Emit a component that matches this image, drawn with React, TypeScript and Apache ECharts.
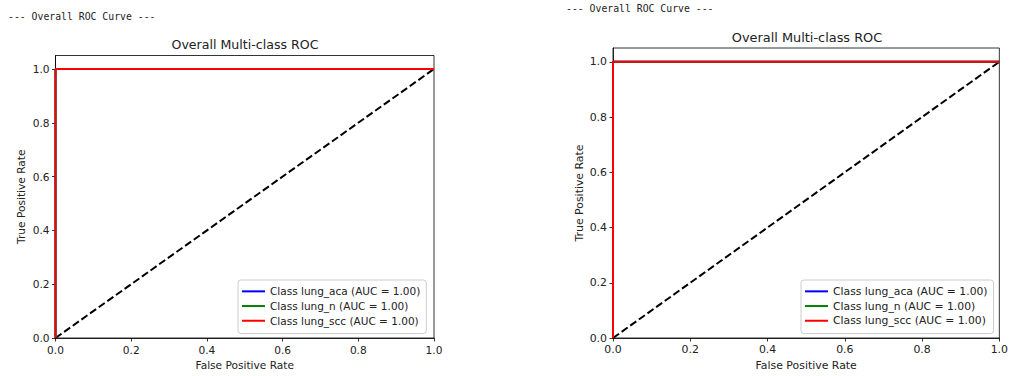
import React, { useEffect, useRef } from "react";
import * as echarts from "echarts";

// ROC curve points (false positive rate / true positive rate)
const fpr = [0, 0, 1];
const tprAca = [0, 1, 1];
const tprN = [0, 1, 1];
const tprScc = [0, 1, 1];
// chance diagonal
const diagX = [0, 1];
const diagY = [0, 1];

const classNames = [
  "Class lung_aca (AUC = 1.00)",
  "Class lung_n (AUC = 1.00)",
  "Class lung_scc (AUC = 1.00)",
];
const classColors = ["#0000ff", "#008000", "#ff0000"];
const classTpr = [tprAca, tprN, tprScc];

const tickValues = [0, 0.2, 0.4, 0.6, 0.8, 1.0];

const headerText = "--- Overall ROC Curve ---";
const titleText = "Overall Multi-class ROC";
const xName = "False Positive Rate";
const yName = "True Positive Rate";

const TXT = "#222";
const FONT = "DejaVu Sans";

const pairs = (xs: number[], ys: number[]) => xs.map((x, i) => [x, ys[i]]);

function axisCommon(fs: number) {
  return {
    type: "value",
    min: 0,
    interval: 0.2,
    splitLine: { show: false },
    axisLine: { show: true, lineStyle: { color: "#000", width: 0.8 } },
    axisTick: {
      show: true,
      length: 3.5,
      lineStyle: { color: "#000", width: 0.8 },
      customValues: tickValues,
    },
    axisLabel: {
      color: TXT,
      fontSize: fs,
      fontFamily: FONT,
      margin: 6,
      customValues: tickValues,
      formatter: (v: number) => v.toFixed(1),
    },
    nameLocation: "middle",
    nameTextStyle: { color: TXT, fontSize: fs, fontFamily: FONT },
  };
}

export default function App() {
  const ref = useRef<HTMLDivElement>(null);
  useEffect(() => {
    if (!ref.current) return;
    const chart = echarts.init(ref.current, undefined, { renderer: "svg" });

    const series: any[] = [];
    [0, 1].forEach((g) => {
      series.push({
        type: "line",
        name: "chance",
        xAxisIndex: g,
        yAxisIndex: g,
        data: pairs(diagX, diagY),
        showSymbol: false,
        symbol: "none",
        lineStyle: { color: "#000", width: 2, type: [7.4, 3.2] },
        z: 1,
      });
      classNames.forEach((n, i) => {
        series.push({
          type: "line",
          name: n,
          xAxisIndex: g,
          yAxisIndex: g,
          data: pairs(fpr, classTpr[i]),
          showSymbol: false,
          symbol: "none",
          color: classColors[i],
          lineStyle: { color: classColors[i], width: 2 },
          z: 2 + i,
        });
      });
    });

    const legendBase = (left: number, fs: number) => ({
      orient: "vertical",
      left,
      top: 280,
      icon: "rect",
      itemWidth: 23,
      itemHeight: 2,
      itemGap: 0,
      padding: [4, 6, 5.5, 4],
      backgroundColor: "rgba(255,255,255,0.8)",
      borderColor: "#cccccc",
      borderWidth: 1,
      borderRadius: 3,
      selectedMode: false,
      data: classNames,
      textStyle: { color: TXT, fontSize: fs, fontFamily: FONT, lineHeight: 14.7 },
    });

    const option: any = {
      animation: false,
      backgroundColor: "#ffffff",
      textStyle: { fontFamily: FONT },
      grid: [
        {
          left: 55.5,
          top: 55.5,
          width: 378.5,
          height: 282.5,
          show: true,
          borderColor: "#000",
          borderWidth: 0.8,
          backgroundColor: "transparent",
        },
        {
          left: 613,
          top: 48,
          width: 388,
          height: 290,
          show: true,
          borderColor: "#000",
          borderWidth: 0.8,
          backgroundColor: "transparent",
        },
      ],
      xAxis: [
        { ...axisCommon(10.6), gridIndex: 0, max: 1, name: xName, nameGap: 21 },
        { ...axisCommon(10.9), gridIndex: 1, max: 1, name: xName, nameGap: 21 },
      ],
      yAxis: [
        { ...axisCommon(10.6), gridIndex: 0, max: 1.05, name: yName, nameGap: 29 },
        { ...axisCommon(10.9), gridIndex: 1, max: 1.05, name: yName, nameGap: 28 },
      ],
      legend: [legendBase(238, 10.5), legendBase(801, 10.8)],
      graphic: [
        {
          type: "text",
          x: 8,
          y: 16,
          style: {
            text: headerText,
            fill: TXT,
            font: "9.8px 'DejaVu Sans Mono'",
            align: "left",
            verticalAlign: "middle",
          },
        },
        {
          type: "text",
          x: 566,
          y: 8,
          style: {
            text: headerText,
            fill: TXT,
            font: "9.8px 'DejaVu Sans Mono'",
            align: "left",
            verticalAlign: "middle",
          },
        },
        {
          type: "text",
          x: 245,
          y: 44,
          style: {
            text: titleText,
            fill: TXT,
            font: "12.6px 'DejaVu Sans'",
            align: "center",
            verticalAlign: "middle",
          },
        },
        {
          type: "text",
          x: 807,
          y: 37,
          style: {
            text: titleText,
            fill: TXT,
            font: "12.9px 'DejaVu Sans'",
            align: "center",
            verticalAlign: "middle",
          },
        },
      ],
      series,
    };
    chart.setOption(option);
    return () => chart.dispose();
  }, []);

  return (
    <div
      ref={ref}
      style={{ position: "fixed", left: 0, top: 0, width: 1011, height: 376, background: "#fff" }}
    />
  );
}
